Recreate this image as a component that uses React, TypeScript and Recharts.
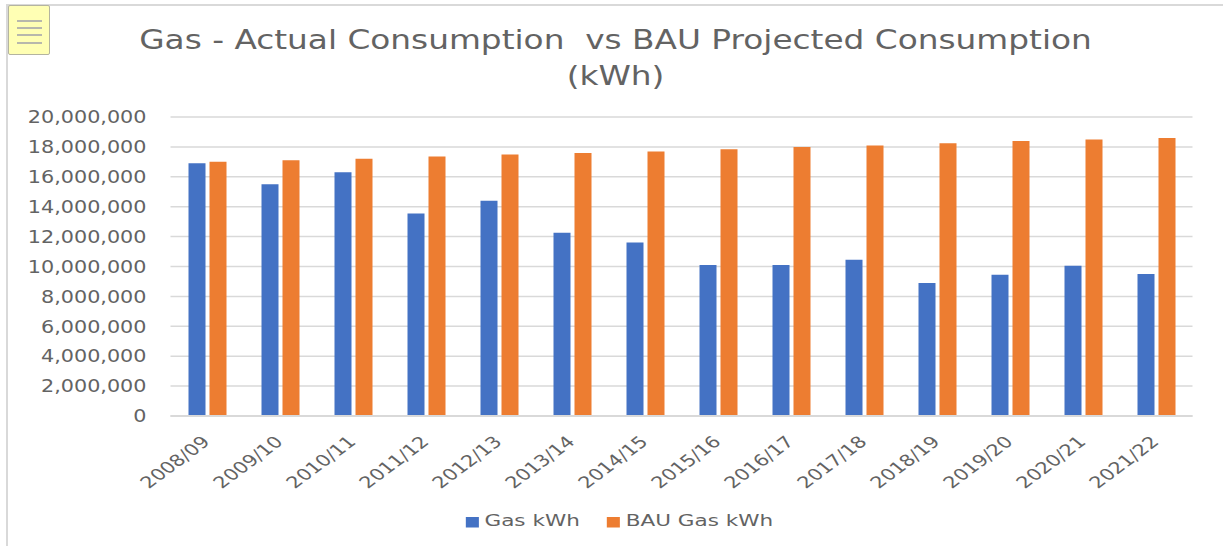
import React from 'react';
import { BarChart, Bar, XAxis, YAxis, CartesianGrid, Legend } from 'recharts';

const years = ['2008/09', '2009/10', '2010/11', '2011/12', '2012/13', '2013/14', '2014/15', '2015/16', '2016/17', '2017/18', '2018/19', '2019/20', '2020/21', '2021/22'];
const gasKwh = [16900000, 15500000, 16300000, 13550000, 14400000, 12250000, 11600000, 10100000, 10100000, 10450000, 8900000, 9450000, 10050000, 9500000];
const bauGasKwh = [17000000, 17100000, 17200000, 17350000, 17500000, 17600000, 17700000, 17850000, 18000000, 18100000, 18250000, 18400000, 18500000, 18600000];
const yTicks = [0, 2000000, 4000000, 6000000, 8000000, 10000000, 12000000, 14000000, 16000000, 18000000, 20000000];

const data = years.map((year, i) => ({ year, gas: gasKwh[i], bau: bauGasKwh[i] }));

const FONT = '"DejaVu Sans", sans-serif';
const TEXT = '#636363';

// the reference screenshot is stretched sideways, so the text is too
function YearTick({ x, y, payload }: any) {
  return (
    <text
      textAnchor="end"
      fontSize={16}
      fontFamily={FONT}
      fill={TEXT}
      transform={`translate(${x + 4} ${y + 19}) scale(1.3 1) rotate(-44)`}
    >
      {payload.value}
    </text>
  );
}

function ValueTick({ x, y, payload }: any) {
  return (
    <text
      textAnchor="end"
      dominantBaseline="central"
      fontSize={17}
      fontFamily={FONT}
      fill={TEXT}
      transform={`translate(${x} ${y}) scale(1.22 1)`}
    >
      {payload.value.toLocaleString('en-US')}
    </text>
  );
}

export default function App() {
  return (
    <div style={{ position: 'absolute', left: 0, top: 0, width: 1223, height: 546, background: '#fff', overflow: 'hidden' }}>
      <div style={{ position: 'absolute', left: 6, top: 4, right: 0, height: 2, background: '#d9d9d9' }} />
      <div style={{ position: 'absolute', left: 6, top: 4, bottom: 0, width: 2, background: '#d9d9d9' }} />
      <div
        style={{
          position: 'absolute', left: 8, top: 5, width: 42, height: 50, boxSizing: 'border-box',
          background: '#ffffb4', border: '1px solid #b4b4a0', borderRadius: 2,
        }}
      >
        {[14, 21, 28, 36].map((t) => (
          <div key={t} style={{ position: 'absolute', left: 8, top: t, width: 25, height: 1.5, background: '#b8b8ac' }} />
        ))}
      </div>
      <div
        style={{
          position: 'absolute', left: 0, top: 22, width: 1231, textAlign: 'center', fontFamily: FONT,
          fontSize: 26, lineHeight: '36px', color: TEXT, transform: 'scaleX(1.26)',
        }}
      >
        Gas - Actual Consumption&nbsp; vs BAU Projected Consumption
        <br />
        (kWh)
      </div>
      <BarChart
        width={1223}
        height={546}
        data={data}
        barSize={17}
        barGap={4}
        margin={{ top: 117, right: 30.5, bottom: 0, left: 0 }}
        style={{ position: 'absolute', left: 0, top: 0 }}
      >
        <CartesianGrid vertical={false} stroke="#d9d9d9" strokeWidth={1.5} />
        <XAxis
          dataKey="year"
          height={111}
          interval={0}
          tick={<YearTick />}
          tickLine={false}
          axisLine={{ stroke: '#d9d9d9', strokeWidth: 2 }}
        />
        <YAxis
          width={170.5}
          domain={[0, 20000000]}
          ticks={yTicks}
          interval={0}
          tick={<ValueTick />}
          tickLine={false}
          axisLine={false}
          tickMargin={18}
        />
        <Bar dataKey="gas" name="Gas kWh" fill="#4472c4" isAnimationActive={false} />
        <Bar dataKey="bau" name="BAU Gas kWh" fill="#ed7d31" isAnimationActive={false} />
        <Legend
          verticalAlign="bottom"
          iconType="square"
          iconSize={10.5}
          itemSorter={null}
          formatter={(value: string) => <span style={{ color: TEXT, fontFamily: FONT, fontSize: 16.2, marginRight: 10 }}>{value}</span>}
          wrapperStyle={{ left: 11, width: 1243, top: 511, transform: 'scaleX(1.33)' }}
        />
      </BarChart>
    </div>
  );
}
